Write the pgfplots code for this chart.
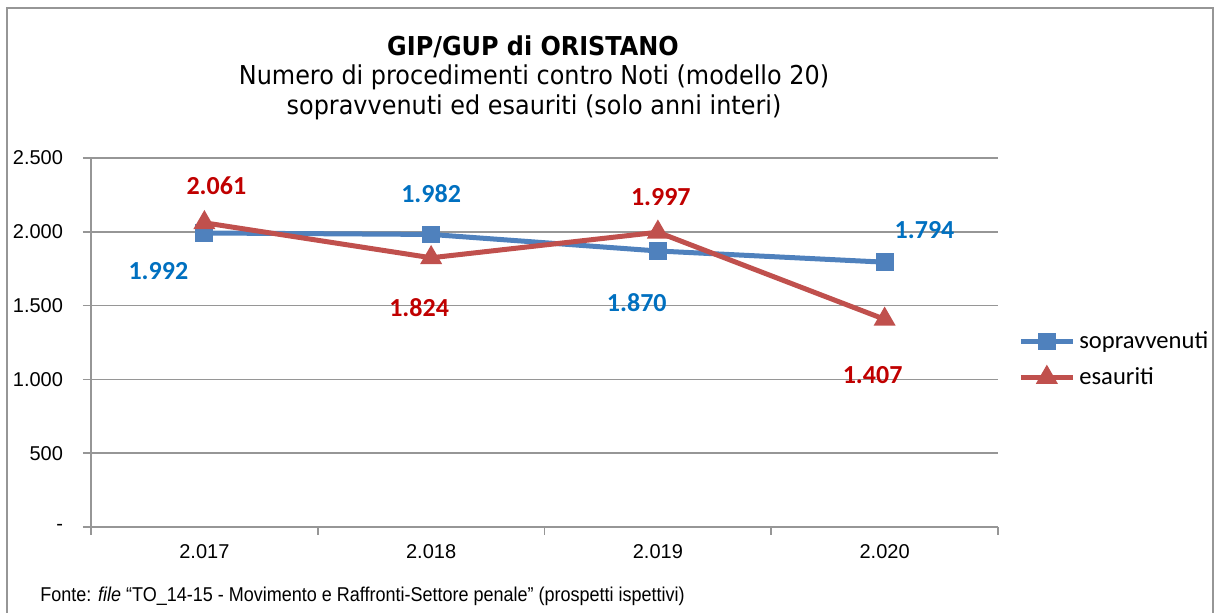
\documentclass[border=0pt]{standalone}
\usepackage{pgfplots}
\pgfplotsset{compat=1.18}
\usepackage{fontspec}
\setmainfont{Liberation Sans}
\newfontfamily\calib{Carlito}
\newfontfamily\tahoma{DejaVu Sans}[FakeStretch=0.92]
\newfontfamily\narrow{Liberation Sans}[FakeStretch=0.9]
\definecolor{serA}{HTML}{4F81BD}
\definecolor{serB}{HTML}{C0504D}
\definecolor{labA}{HTML}{0070C0}
\definecolor{labB}{HTML}{C00000}
\definecolor{gridc}{HTML}{969696}
\begin{document}
\begin{tikzpicture}
\useasboundingbox (0,0) rectangle (609pt,306.5pt);
\draw[gridc, line width=1pt] (3.5pt,0) -- (3.5pt,302.5pt) -- (606.5pt,302.5pt) -- (606.5pt,0);
\begin{axis}[
 at={(45.5pt,43pt)}, anchor=south west,
 width=453.5pt, height=184.5pt, scale only axis,
 xmin=-0.5, xmax=3.5, ymin=0, ymax=2500,
 axis x line*=bottom, axis y line*=left,
 axis line style={gridc, line width=0.8pt},
 ymajorgrids, grid style={gridc, line width=0.8pt},
 ytick={0,500,1000,1500,2000,2500},
 yticklabels={-,500,1.000,1.500,2.000,2.500},
 xtick={-0.5,0.5,1.5,2.5,3.5},
 xticklabels={2.017,2.018,2.019,2.020},
 x tick label as interval,
 tick align=outside,
 tick style={gridc, line width=0.8pt},
 major tick length=4pt,
 ticklabel style={font=\fontsize{10}{12}\selectfont},
 yticklabel style={xshift=-6.5pt},
 xticklabel style={yshift=-1pt},
 clip=false,
 legend style={at={(1.022,0.454)}, anchor=west, draw=none, fill=none,
   font=\calib\fontsize{12.3}{14}\selectfont, row sep=4pt, inner sep=0pt},
 legend cell align=left,
 legend image code/.code={\draw[mark repeat=2,mark phase=2,#1] plot coordinates {(0pt,0pt)(13pt,0pt)(26pt,0pt)};},
]
\addplot[serA, line width=2.5pt, mark=square*, mark size=3.2pt, mark options={solid}]
 coordinates {(0,1992)(1,1982)(2,1870)(3,1794)};
\addlegendentry{sopravvenuti}
\addplot[serB, line width=2.5pt, mark=triangle*, mark size=3.9pt, mark options={solid}]
 coordinates {(0,2061)(1,1824)(2,1997)(3,1407)};
\addlegendentry{esauriti}
\tikzset{lab/.style={font=\calib\bfseries\fontsize{13}{15}\selectfont, inner sep=0pt}}
\node[lab, labB] at (axis cs:0.053,2310) {2.061};
\node[lab, labA] at (axis cs:-0.203,1734) {1.992};
\node[lab, labA] at (axis cs:1.0,2256) {1.982};
\node[lab, labB] at (axis cs:0.947,1484) {1.824};
\node[lab, labB] at (axis cs:2.013,2236) {1.997};
\node[lab, labA] at (axis cs:1.907,1518) {1.870};
\node[lab, labA] at (axis cs:3.176,2012) {1.794};
\node[lab, labB] at (axis cs:2.947,1030) {1.407};
\end{axis}
\node[font=\tahoma\bfseries\fontsize{13}{15}\selectfont] at (266.5pt,283pt) {GIP/GUP di ORISTANO};
\node[font=\tahoma\fontsize{13}{15}\selectfont] at (267pt,268pt) {Numero di procedimenti contro Noti (modello 20)};
\node[font=\tahoma\fontsize{13}{15}\selectfont] at (267pt,253pt) {sopravvenuti ed esauriti (solo anni interi)};
\node[font=\narrow\fontsize{10}{12}\selectfont, anchor=west, inner sep=0pt] at (20pt,8.5pt) {Fonte: \textit{file} “TO\_14-15 - Movimento e Raffronti-Settore penale” (prospetti ispettivi)};
\end{tikzpicture}
\end{document}
